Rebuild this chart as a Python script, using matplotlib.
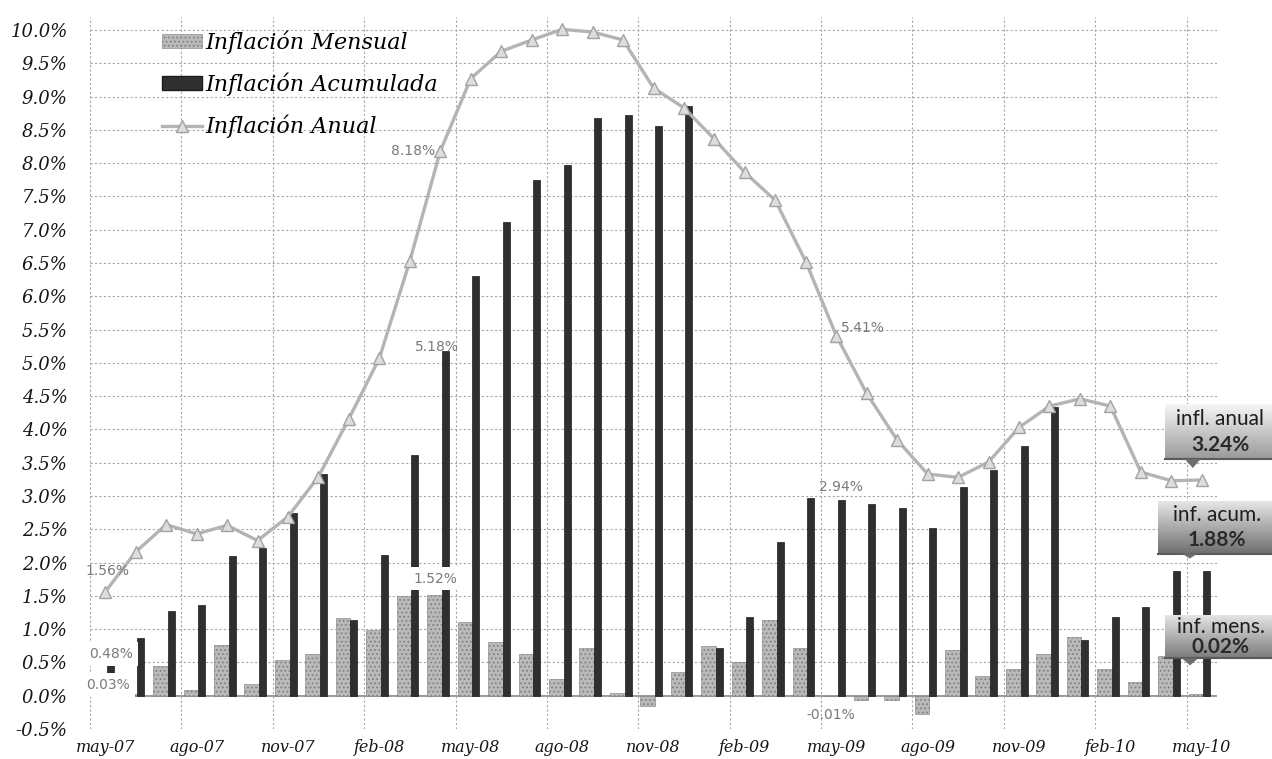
import numpy as np
import matplotlib
matplotlib.use("Agg")
import matplotlib.pyplot as plt
from matplotlib.patches import Patch, Polygon
from matplotlib.lines import Line2D

# -- datos (%) ---------------------------------------------------------------
meses = ["may-07", "jun-07", "jul-07", "ago-07", "sep-07", "oct-07", "nov-07", "dic-07",
         "ene-08", "feb-08", "mar-08", "abr-08", "may-08", "jun-08", "jul-08", "ago-08",
         "sep-08", "oct-08", "nov-08", "dic-08",
         "ene-09", "feb-09", "mar-09", "abr-09", "may-09", "jun-09", "jul-09", "ago-09",
         "sep-09", "oct-09", "nov-09", "dic-09",
         "ene-10", "feb-10", "mar-10", "abr-10", "may-10"]

mensual = [0.03, 0.02, 0.45, 0.09, 0.76, 0.18, 0.54, 0.62,
           1.17, 0.99, 1.50, 1.52, 1.10, 0.81, 0.63, 0.25, 0.71, 0.04, -0.15, 0.35,
           0.75, 0.51, 1.14, 0.71, -0.01, -0.06, -0.06, -0.27, 0.68, 0.30, 0.40, 0.63,
           0.88, 0.40, 0.20, 0.60, 0.02]

acumulada = [0.48, 0.87, 1.28, 1.37, 2.10, 2.22, 2.75, 3.33,
             1.14, 2.11, 3.62, 5.18, 6.30, 7.11, 7.74, 7.97, 8.68, 8.72, 8.56, 8.86,
             0.71, 1.18, 2.31, 2.97, 2.94, 2.88, 2.82, 2.52, 3.14, 3.39, 3.75, 4.33,
             0.84, 1.18, 1.34, 1.88, 1.88]

anual = [1.56, 2.16, 2.57, 2.43, 2.56, 2.33, 2.69, 3.29,
         4.16, 5.07, 6.53, 8.18, 9.27, 9.68, 9.85, 10.01, 9.97, 9.85, 9.13, 8.83,
         8.36, 7.86, 7.44, 6.52, 5.41, 4.54, 3.84, 3.33, 3.28, 3.51, 4.03, 4.35,
         4.46, 4.35, 3.36, 3.23, 3.24]

# meses con etiqueta de valor
idx_etiquetas = [0, 11, 24]

# -- estilo --------------------------------------------------------------------
C_MENS = "#b9b9b9"
C_MENS_EDGE = "#7c7c7c"
C_ACUM = "#2f2f2f"
C_ANUAL = "#b4b4b4"
C_GRID = "#a6a6a6"
C_LABEL = "#7a7a7a"
SERIF = "DejaVu Serif"

plt.rcParams["hatch.linewidth"] = 0.7

W, H = 1272, 759
fig = plt.figure(figsize=(W / 100, H / 100), dpi=100, facecolor="white")
ax = fig.add_axes([90 / W, 1 - 729 / H, (1217 - 90) / W, (729 - 16.7) / H])

x = np.arange(len(meses))
w_mens, off_mens = 0.48, -0.19
w_acum, off_acum = 0.23, 0.165

ax.bar(x + off_mens, mensual, width=w_mens, color=C_MENS, edgecolor=C_MENS_EDGE,
       hatch="....", linewidth=0.4, zorder=2)
ax.bar(x + off_acum, acumulada, width=w_acum, color=C_ACUM, edgecolor="#1c1c1c",
       linewidth=0.5, zorder=3)
ax.plot(x, anual, color=C_ANUAL, lw=2.4, marker="^", ms=8, mfc="#dddddd",
        mec="#a2a2a2", mew=1.0, zorder=4)

ax.set_xlim(-0.5, len(meses) - 0.5)
ax.set_ylim(-0.5, 10.2)

yt = np.arange(-0.5, 10.01, 0.5)
ax.set_yticks(yt)
ax.set_yticklabels([f"{v:.1f}%" for v in yt], family=SERIF, style="italic",
                   fontsize=13, color="#151515")
ax.set_xticks(x[::3])
ax.set_xticklabels(meses[::3], family=SERIF, style="italic", fontsize=11.5,
                   color="#151515")
ax.set_xticks(x[::3] - 0.5, minor=True)
ax.tick_params(axis="both", which="both", length=0)
ax.tick_params(axis="y", pad=16)
ax.tick_params(axis="x", pad=7)

ax.grid(axis="y", which="major", color=C_GRID, lw=0.8, ls=(0, (2, 2)), zorder=0)
ax.grid(axis="x", which="minor", color=C_GRID, lw=0.8, ls=(0, (2, 2)), zorder=0)
ax.axhline(0, color="#909090", lw=1.3, zorder=1)
for s in ax.spines.values():
    s.set_visible(False)

# -- etiquetas de datos ----------------------------------------------------------
def etiqueta(xv, yv, dx, dy, fondo=False, size=10):
    kw = dict(textcoords="offset pixels", ha="center", va="center", fontsize=size,
              color=C_LABEL, family="DejaVu Sans", zorder=6)
    if fondo:
        kw["bbox"] = dict(boxstyle="square,pad=0.35", fc="white", ec="none")
    ax.annotate(f"{yv:.2f}%", (xv, yv), xytext=(dx, dy), **kw)

i0, i1, i2 = idx_etiquetas
etiqueta(i0, anual[i0], 2, 21)
etiqueta(i1, anual[i1], -27, 0)
etiqueta(i2, anual[i2], 27, 8)
etiqueta(i0 + off_acum, acumulada[i0], 1, 10, fondo=True)
etiqueta(i1 + off_acum, acumulada[i1], -8, 4)
etiqueta(i2 + off_acum, acumulada[i2], 0, 13)
etiqueta(i0 + off_mens, mensual[i0], 9, 9, fondo=True)
etiqueta(i1 + off_mens, mensual[i1], 1, 16, fondo=True)
etiqueta(i2 + off_mens, mensual[i2], 0, -19)

# -- leyenda ---------------------------------------------------------------------
handles = [
    Patch(facecolor=C_MENS, edgecolor=C_MENS_EDGE, hatch="....", lw=0.4),
    Patch(facecolor=C_ACUM, edgecolor="#1c1c1c"),
    Line2D([], [], color=C_ANUAL, lw=2.4, marker="^", ms=8, mfc="#dddddd", mec="#a2a2a2"),
]
ax.legend(handles, ["Inflación Mensual", "Inflación Acumulada", "Inflación Anual"],
          loc="upper left", bbox_to_anchor=(0.052, 1.0), frameon=False,
          prop=dict(family=SERIF, style="italic", size=16), handlelength=1.8,
          handleheight=0.6, labelspacing=0.85, handletextpad=0.15, borderaxespad=0.2)

# -- globos del último mes (capa en píxeles sobre toda la figura) ---------------
ov = fig.add_axes([0, 0, 1, 1], zorder=5)
ov.set_axis_off()
ov.patch.set_alpha(0)


def globo(xv, yv, tip, caja, linea1, linea2, c_top, c_bot):
    px, py = ax.transData.transform((xv, yv))
    tx, ty = px + tip[0], py + tip[1]
    x0, x1 = tx + caja[0], tx + caja[1]
    y0, y1 = ty + caja[2], ty + caja[3]
    grad = np.linspace(0, 1, 64)[:, None, None]
    top = np.array(matplotlib.colors.to_rgb(c_top))
    bot = np.array(matplotlib.colors.to_rgb(c_bot))
    img = top * (1 - grad) + bot * grad
    ov.imshow(img, extent=[x0, x1, y0, y1], origin="upper", aspect="auto",
              interpolation="bilinear", zorder=1)
    ov.plot([x0, x1], [y0, y0], color="#5a5a5a", lw=1.5, zorder=2)
    ov.add_patch(Polygon([[tx - 8, y0], [tx + 8, y0], [tx, ty]], closed=True,
                         fc="#6e6e6e", ec="none", zorder=2))
    h = y1 - y0
    ov.text((x0 + x1) / 2 + 2, y0 + 0.72 * h, linea1, ha="center", va="center",
            fontsize=15, family="Lato", color="#1e1e1e", zorder=3)
    ov.text((x0 + x1) / 2 + 2, y0 + 0.26 * h, linea2, ha="center", va="center",
            fontsize=15, family="Lato", weight="bold", color="#2a2a2a", zorder=3)


n = len(meses) - 1
globo(n, anual[n], (-9, 12), (-28, 79, 9, 64), "infl. anual", f"{anual[n]:.2f}%",
      "#f6f6f6", "#9a9a9a")
globo(n + off_acum, acumulada[n], (-17, 12), (-32, 82, 5, 58), "inf. acum.",
      f"{acumulada[n]:.2f}%", "#e6e6e6", "#6e6e6e")
globo(n + off_mens, mensual[n], (-6, 29), (-25, 82, 7, 50), "inf. mens.",
      f"{mensual[n]:.2f}%", "#e4e4e4", "#7c7c7c")

ov.set_xlim(0, W)
ov.set_ylim(0, H)

fig.savefig("out.png", dpi=100, facecolor="white")
